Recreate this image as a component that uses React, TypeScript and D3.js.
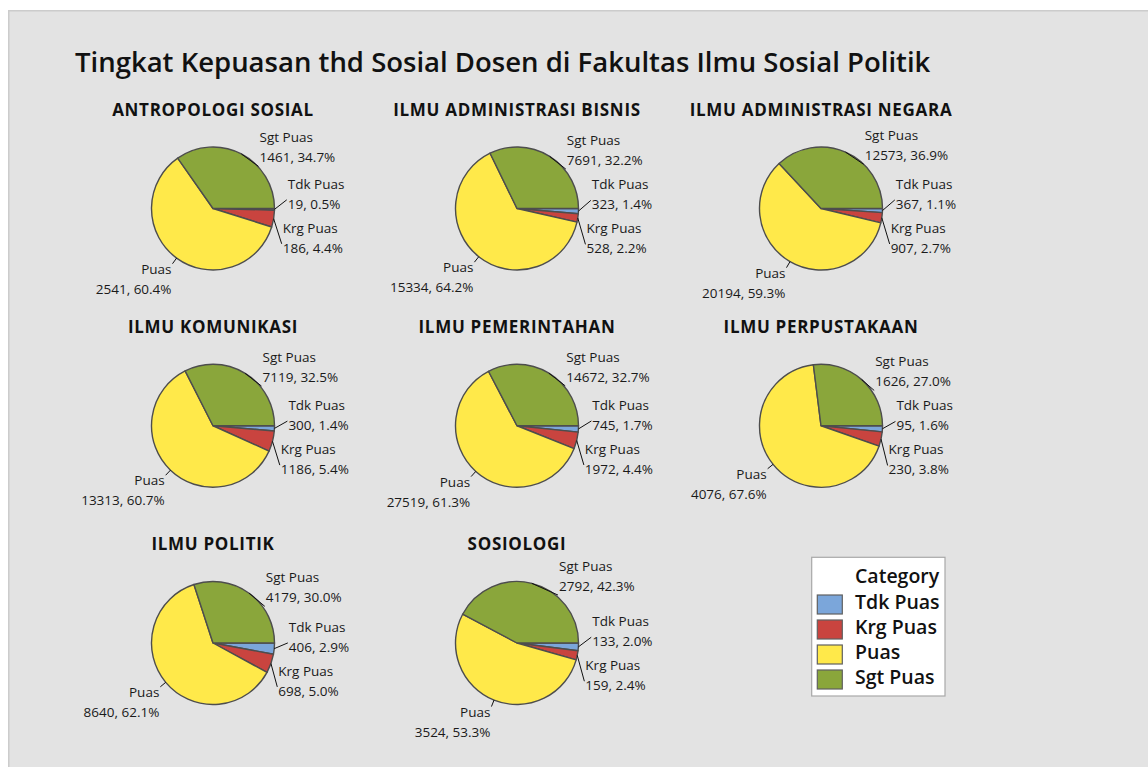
import React from "react";
import * as d3 from "d3";

const chartTitle = "Tingkat Kepuasan thd Sosial Dosen di Fakultas Ilmu Sosial Politik";
const legendTitle = "Category";
const categories = ["Tdk Puas", "Krg Puas", "Puas", "Sgt Puas"];
const sliceColors = ["#7BA6DA", "#C9443F", "#FFE94A", "#8AA63B"];
const programs = [
  "ANTROPOLOGI SOSIAL",
  "ILMU ADMINISTRASI BISNIS",
  "ILMU ADMINISTRASI NEGARA",
  "ILMU KOMUNIKASI",
  "ILMU PEMERINTAHAN",
  "ILMU PERPUSTAKAAN",
  "ILMU POLITIK",
  "SOSIOLOGI",
];
const tdkPuas = [19, 323, 367, 300, 745, 95, 406, 133];
const krgPuas = [186, 528, 907, 1186, 1972, 230, 698, 159];
const puas = [2541, 15334, 20194, 13313, 27519, 4076, 8640, 3524];
const sgtPuas = [1461, 7691, 12573, 7119, 14672, 1626, 4179, 2792];

const W = 1140;
const H = 759;
const R = 61.5;
const FONT = "'Open Sans', 'Noto Sans', sans-serif";

const colX = d3.scalePoint<number>().domain([0, 1, 2]).range([205, 813]);
const rowY = d3.scalePoint<number>().domain([0, 1, 2]).range([200.5, 635]);
const color = d3.scaleOrdinal<string, string>().domain(categories).range(sliceColors);
const pct = d3.format(".1%");

type Slice = { cat: string; value: number };

const pieGen = d3
  .pie<Slice>()
  .sort(null)
  .value((d) => d.value)
  .startAngle(Math.PI / 2)
  .endAngle(Math.PI / 2 + 2 * Math.PI);

const arcGen = d3.arc<d3.PieArcDatum<Slice>>().innerRadius(0).outerRadius(R);

type Label = {
  cat: string;
  text2: string;
  edge: [number, number];
  end: [number, number];
  x: number;
  yc: number;
  anchor: "start" | "end";
};

function layoutLabels(arcs: d3.PieArcDatum<Slice>[], total: number): Label[] {
  const GAP = 44;
  const items = arcs.map((a) => {
    const mid = (a.startAngle + a.endAngle) / 2;
    const sx = Math.sin(mid);
    const sy = -Math.cos(mid);
    return {
      cat: a.data.cat,
      text2: `${a.data.value}, ${pct(a.data.value / total)}`,
      sx,
      sy,
      ideal: sy * 70 + 2,
      yc: 0,
    };
  });
  const right = items.filter((d) => d.sx >= 0).sort((a, b) => a.ideal - b.ideal);
  const clusters = right.map((d) => ({ items: [d], pos: d.ideal }));
  let changed = true;
  while (changed) {
    changed = false;
    for (let k = 0; k < clusters.length - 1; k++) {
      const a = clusters[k];
      const b = clusters[k + 1];
      const aEnd = a.pos + (a.items.length - 1) * GAP;
      if (b.pos < aEnd + GAP) {
        const merged = a.items.concat(b.items);
        const pos = d3.mean(merged, (it, j) => it.ideal - j * GAP) as number;
        clusters.splice(k, 2, { items: merged, pos });
        changed = true;
        break;
      }
    }
  }
  clusters.forEach((c) => c.items.forEach((it, j) => (it.yc = c.pos + j * GAP)));

  const out: Label[] = [];
  items.forEach((d) => {
    const edge: [number, number] = [d.sx * R, d.sy * R];
    if (d.sx >= 0) {
      const rr = R + 14.5;
      const x = Math.max(42, Math.sqrt(Math.max(0, rr * rr - d.yc * d.yc)));
      const end: [number, number] = d.yc + 18 < 0 ? [x - 1, d.yc + 18] : [x - 1, d.yc + 5];
      out.push({ cat: d.cat, text2: d.text2, edge, end, x, yc: d.yc, anchor: "start" });
    } else {
      const ex = d.sx * (R + 7);
      const ey = d.sy * (R + 7);
      let yc: number;
      if (d.sy > 0.3) yc = ey + 16;
      else if (d.sy < -0.3) yc = ey - 18;
      else yc = ey + 1;
      out.push({ cat: d.cat, text2: d.text2, edge, end: [ex, ey], x: ex - 1, yc, anchor: "end" });
    }
  });
  return out;
}

function PiePanel({ idx }: { idx: number }) {
  const col = idx % 3;
  const row = Math.floor(idx / 3);
  const cx = colX(col) as number;
  const cy = rowY(row) as number;
  const data: Slice[] = [
    { cat: categories[0], value: tdkPuas[idx] },
    { cat: categories[1], value: krgPuas[idx] },
    { cat: categories[2], value: puas[idx] },
    { cat: categories[3], value: sgtPuas[idx] },
  ];
  const total = d3.sum(data, (d) => d.value);
  const arcs = pieGen(data);
  const labels = layoutLabels(arcs, total);
  return (
    <g transform={`translate(${cx},${cy})`}>
      <text
        x={0}
        y={-93}
        textAnchor="middle"
        fontFamily={FONT}
        fontWeight={700}
        fontSize={17}
        letterSpacing={0.7}
        fill="#111"
      >
        {programs[idx]}
      </text>
      {arcs.map((a) => (
        <path
          key={a.data.cat}
          d={arcGen(a) as string}
          fill={color(a.data.cat)}
          stroke="#4d4d4d"
          strokeWidth={1.4}
          strokeLinejoin="round"
        />
      ))}
      {labels.map((l) => (
        <g key={l.cat}>
          <line x1={l.edge[0]} y1={l.edge[1]} x2={l.end[0]} y2={l.end[1]} stroke="#111" strokeWidth={1} />
          <text textAnchor={l.anchor} fontFamily={FONT} fontSize={13.5} fill="#1a1a1a">
            <tspan x={l.x} y={l.yc - 6}>
              {l.cat}
            </tspan>
            <tspan x={l.x} y={l.yc + 14}>
              {l.text2}
            </tspan>
          </text>
        </g>
      ))}
    </g>
  );
}

function Legend() {
  const x0 = 803.7;
  const y0 = 549.3;
  const itemY = d3.scalePoint<string>().domain(categories).range([587, 662]);
  return (
    <g>
      <rect x={x0} y={y0} width={133.3} height={138.7} fill="#ffffff" stroke="#a8a8a8" strokeWidth={1.2} />
      <text x={847} y={575.3} fontFamily={FONT} fontWeight={600} fontSize={19.5} fill="#111">
        {legendTitle}
      </text>
      {categories.map((c) => (
        <g key={c}>
          <rect
            x={809.3}
            y={itemY(c) as number}
            width={25}
            height={19}
            fill={color(c)}
            stroke="#606060"
            strokeWidth={1.2}
          />
          <text x={847} y={(itemY(c) as number) + 14} fontFamily={FONT} fontWeight={600} fontSize={19.5} fill="#111">
            {c}
          </text>
        </g>
      ))}
    </g>
  );
}

export default function App() {
  return (
    <svg width={W} height={H} style={{ position: "absolute", left: 8, top: 8, display: "block" }}>
      <rect x={0.75} y={2.75} width={W + 40} height={H + 40} fill="#e3e3e3" stroke="#cccccc" strokeWidth={1.5} />
      <text x={67} y={64} fontFamily={FONT} fontWeight={600} fontSize={27.5} fill="#111">
        {chartTitle}
      </text>
      {programs.map((p, i) => (
        <PiePanel key={p} idx={i} />
      ))}
      <Legend />
    </svg>
  );
}
